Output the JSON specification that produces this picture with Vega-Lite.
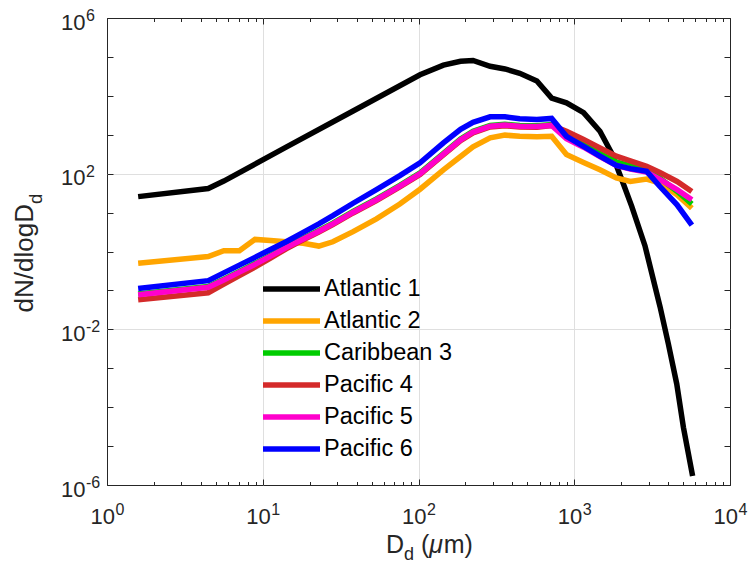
{
"$schema": "https://vega.github.io/schema/vega-lite/v6.json",
"width": 623, "height": 467,
"autosize": {"type": "none"},
"padding": {"left": 107, "top": 18, "right": 21, "bottom": 94},
"background": "white",
"config": {"font": "Liberation Sans", "view": {"stroke": "#262626", "strokeWidth": 1}, "axis": {"domain": false, "tickColor": "#262626", "labelColor": "#262626", "gridColor": "#dfdfdf", "labelFont": "Liberation Sans"}},
"resolve": {"axis": {"x": "independent", "y": "independent"}},
"layer": [
{
"data": {"values": [
{"series":"Atlantic 1","D":1.585,"N":25.70},{"series":"Atlantic 1","D":4.467,"N":41.69},{"series":"Atlantic 1","D":5.623,"N":64.57},{"series":"Atlantic 1","D":14.13,"N":478.6},{"series":"Atlantic 1","D":38.02,"N":4074},{"series":"Atlantic 1","D":102.3,"N":34674},{"series":"Atlantic 1","D":144.5,"N":61660},{"series":"Atlantic 1","D":186.2,"N":77625},{"series":"Atlantic 1","D":223.9,"N":81283},{"series":"Atlantic 1","D":288.4,"N":57544},{"series":"Atlantic 1","D":358.9,"N":48978},{"series":"Atlantic 1","D":446.7,"N":38019},{"series":"Atlantic 1","D":575.4,"N":23988},{"series":"Atlantic 1","D":716.1,"N":8710},{"series":"Atlantic 1","D":891.3,"N":6607},{"series":"Atlantic 1","D":1148,"N":3715},{"series":"Atlantic 1","D":1462,"N":1230},{"series":"Atlantic 1","D":1738,"N":338.8},{"series":"Atlantic 1","D":2018,"N":70.79},{"series":"Atlantic 1","D":2339,"N":14.45},{"series":"Atlantic 1","D":2844,"N":1.413},{"series":"Atlantic 1","D":3556,"N":0.03802},{"series":"Atlantic 1","D":4018,"N":0.004266},{"series":"Atlantic 1","D":4550,"N":0.0003981},{"series":"Atlantic 1","D":5023,"N":0.0000302},{"series":"Atlantic 1","D":5754,"N":0.000001698},
{"series":"Atlantic 2","D":1.585,"N":0.5012},{"series":"Atlantic 2","D":4.467,"N":0.7413},{"series":"Atlantic 2","D":5.623,"N":1.047},{"series":"Atlantic 2","D":7.079,"N":1.047},{"series":"Atlantic 2","D":8.913,"N":2.042},{"series":"Atlantic 2","D":11.22,"N":1.905},{"series":"Atlantic 2","D":14.13,"N":1.778},{"series":"Atlantic 2","D":18.2,"N":1.622},{"series":"Atlantic 2","D":22.91,"N":1.38},{"series":"Atlantic 2","D":28.18,"N":1.778},{"series":"Atlantic 2","D":38.02,"N":3.236},{"series":"Atlantic 2","D":53.7,"N":6.918},{"series":"Atlantic 2","D":75.86,"N":16.6},{"series":"Atlantic 2","D":102.3,"N":39.81},{"series":"Atlantic 2","D":144.5,"N":125.9},{"series":"Atlantic 2","D":186.2,"N":275.4},{"series":"Atlantic 2","D":223.9,"N":489.8},{"series":"Atlantic 2","D":288.4,"N":831.8},{"series":"Atlantic 2","D":358.9,"N":977.2},{"series":"Atlantic 2","D":446.7,"N":912},{"series":"Atlantic 2","D":575.4,"N":891.3},{"series":"Atlantic 2","D":716.1,"N":912},{"series":"Atlantic 2","D":891.3,"N":309},{"series":"Atlantic 2","D":1148,"N":195},{"series":"Atlantic 2","D":1462,"N":125.9},{"series":"Atlantic 2","D":1862,"N":77.62},{"series":"Atlantic 2","D":2291,"N":63.1},{"series":"Atlantic 2","D":2917,"N":72.44},{"series":"Atlantic 2","D":3548,"N":57.54},{"series":"Atlantic 2","D":4571,"N":28.84},{"series":"Atlantic 2","D":5689,"N":12.88},
{"series":"Caribbean 3","D":1.585,"N":0.08128},{"series":"Caribbean 3","D":4.467,"N":0.1259},{"series":"Caribbean 3","D":5.623,"N":0.1950},{"series":"Caribbean 3","D":7.079,"N":0.3090},{"series":"Caribbean 3","D":8.913,"N":0.4898},{"series":"Caribbean 3","D":11.22,"N":0.7943},{"series":"Caribbean 3","D":14.13,"N":1.318},{"series":"Caribbean 3","D":18.2,"N":2.188},{"series":"Caribbean 3","D":22.91,"N":3.467},{"series":"Caribbean 3","D":28.18,"N":5.370},{"series":"Caribbean 3","D":38.02,"N":10.72},{"series":"Caribbean 3","D":53.7,"N":22.39},{"series":"Caribbean 3","D":75.86,"N":50.12},{"series":"Caribbean 3","D":102.3,"N":104.7},{"series":"Caribbean 3","D":144.5,"N":331.1},{"series":"Caribbean 3","D":186.2,"N":776.2},{"series":"Caribbean 3","D":223.9,"N":1230},{"series":"Caribbean 3","D":288.4,"N":1738},{"series":"Caribbean 3","D":358.9,"N":1862},{"series":"Caribbean 3","D":446.7,"N":1738},{"series":"Caribbean 3","D":575.4,"N":1698},{"series":"Caribbean 3","D":716.1,"N":1820},{"series":"Caribbean 3","D":891.3,"N":851.1},{"series":"Caribbean 3","D":1148,"N":562.3},{"series":"Caribbean 3","D":1462,"N":331.1},{"series":"Caribbean 3","D":1862,"N":199.5},{"series":"Caribbean 3","D":2291,"N":158.5},{"series":"Caribbean 3","D":2917,"N":125.9},{"series":"Caribbean 3","D":3548,"N":75.86},{"series":"Caribbean 3","D":4571,"N":35.48},{"series":"Caribbean 3","D":5689,"N":16.6},
{"series":"Pacific 4","D":1.585,"N":0.05754},{"series":"Pacific 4","D":4.467,"N":0.0871},{"series":"Pacific 4","D":5.623,"N":0.1445},{"series":"Pacific 4","D":7.079,"N":0.2399},{"series":"Pacific 4","D":8.913,"N":0.3981},{"series":"Pacific 4","D":11.22,"N":0.6761},{"series":"Pacific 4","D":14.13,"N":1.175},{"series":"Pacific 4","D":18.2,"N":1.995},{"series":"Pacific 4","D":22.91,"N":3.162},{"series":"Pacific 4","D":28.18,"N":4.898},{"series":"Pacific 4","D":38.02,"N":9.772},{"series":"Pacific 4","D":53.7,"N":20.42},{"series":"Pacific 4","D":75.86,"N":45.71},{"series":"Pacific 4","D":102.3,"N":95.5},{"series":"Pacific 4","D":144.5,"N":302},{"series":"Pacific 4","D":186.2,"N":707.9},{"series":"Pacific 4","D":223.9,"N":1122},{"series":"Pacific 4","D":288.4,"N":1585},{"series":"Pacific 4","D":358.9,"N":1698},{"series":"Pacific 4","D":446.7,"N":1585},{"series":"Pacific 4","D":575.4,"N":1549},{"series":"Pacific 4","D":716.1,"N":1738},{"series":"Pacific 4","D":891.3,"N":1230},{"series":"Pacific 4","D":1148,"N":758.6},{"series":"Pacific 4","D":1462,"N":457.1},{"series":"Pacific 4","D":1862,"N":281.8},{"series":"Pacific 4","D":2291,"N":213.8},{"series":"Pacific 4","D":2917,"N":154.9},{"series":"Pacific 4","D":3548,"N":107.2},{"series":"Pacific 4","D":4571,"N":63.1},{"series":"Pacific 4","D":5689,"N":34.67},
{"series":"Pacific 5","D":1.585,"N":0.07762},{"series":"Pacific 5","D":4.467,"N":0.1202},{"series":"Pacific 5","D":5.623,"N":0.1862},{"series":"Pacific 5","D":7.079,"N":0.2951},{"series":"Pacific 5","D":8.913,"N":0.4677},{"series":"Pacific 5","D":11.22,"N":0.7586},{"series":"Pacific 5","D":14.13,"N":1.259},{"series":"Pacific 5","D":18.2,"N":2.089},{"series":"Pacific 5","D":22.91,"N":3.311},{"series":"Pacific 5","D":28.18,"N":5.129},{"series":"Pacific 5","D":38.02,"N":10.23},{"series":"Pacific 5","D":53.7,"N":21.38},{"series":"Pacific 5","D":75.86,"N":47.86},{"series":"Pacific 5","D":102.3,"N":100},{"series":"Pacific 5","D":144.5,"N":316.2},{"series":"Pacific 5","D":186.2,"N":741.3},{"series":"Pacific 5","D":223.9,"N":1175},{"series":"Pacific 5","D":288.4,"N":1660},{"series":"Pacific 5","D":358.9,"N":1778},{"series":"Pacific 5","D":446.7,"N":1660},{"series":"Pacific 5","D":575.4,"N":1622},{"series":"Pacific 5","D":716.1,"N":1738},{"series":"Pacific 5","D":891.3,"N":794.3},{"series":"Pacific 5","D":1148,"N":478.6},{"series":"Pacific 5","D":1462,"N":275.4},{"series":"Pacific 5","D":1862,"N":162.2},{"series":"Pacific 5","D":2291,"N":131.8},{"series":"Pacific 5","D":2917,"N":109.6},{"series":"Pacific 5","D":3548,"N":70.79},{"series":"Pacific 5","D":4571,"N":38.9},{"series":"Pacific 5","D":5689,"N":21.38},
{"series":"Pacific 6","D":1.585,"N":0.1122},{"series":"Pacific 6","D":4.467,"N":0.1778},{"series":"Pacific 6","D":5.623,"N":0.2818},{"series":"Pacific 6","D":7.079,"N":0.4467},{"series":"Pacific 6","D":8.913,"N":0.7079},{"series":"Pacific 6","D":11.22,"N":1.122},{"series":"Pacific 6","D":14.13,"N":1.778},{"series":"Pacific 6","D":18.2,"N":3.09},{"series":"Pacific 6","D":22.91,"N":5.129},{"series":"Pacific 6","D":28.18,"N":8.318},{"series":"Pacific 6","D":38.02,"N":17.38},{"series":"Pacific 6","D":53.7,"N":38.9},{"series":"Pacific 6","D":75.86,"N":89.13},{"series":"Pacific 6","D":102.3,"N":190.5},{"series":"Pacific 6","D":144.5,"N":616.6},{"series":"Pacific 6","D":186.2,"N":1380},{"series":"Pacific 6","D":223.9,"N":2089},{"series":"Pacific 6","D":288.4,"N":2884},{"series":"Pacific 6","D":358.9,"N":2884},{"series":"Pacific 6","D":446.7,"N":2570},{"series":"Pacific 6","D":575.4,"N":2455},{"series":"Pacific 6","D":716.1,"N":2630},{"series":"Pacific 6","D":891.3,"N":912},{"series":"Pacific 6","D":1148,"N":501.2},{"series":"Pacific 6","D":1462,"N":281.8},{"series":"Pacific 6","D":1862,"N":162.2},{"series":"Pacific 6","D":2291,"N":134.9},{"series":"Pacific 6","D":2917,"N":114.8},{"series":"Pacific 6","D":3548,"N":46.77},{"series":"Pacific 6","D":4571,"N":15.85},{"series":"Pacific 6","D":5689,"N":4.786}
]},
"mark": {"type": "line", "strokeWidth": 5.5, "clip": true},
"encoding": {
"x": {"field": "D", "type": "quantitative", "scale": {"type": "log", "domain": [1, 10000]},
 "axis": {"orient": "bottom", "title": null,
  "values": [1,2,3,4,5,6,7,8,9,10,20,30,40,50,60,70,80,90,100,200,300,400,500,600,700,800,900,1000,2000,3000,4000,5000,6000,7000,8000,9000,10000],
  "tickSize": {"condition": {"test": "datum.value == 1 || datum.value == 10 || datum.value == 100 || datum.value == 1000 || datum.value == 10000", "value": -6}, "value": -3.5},
  "labelExpr": "datum.value == 1 || datum.value == 10 || datum.value == 100 || datum.value == 1000 || datum.value == 10000 ? '10' : ''",
  "labelAlign": "right", "labelOffset": 7.5, "labelBaseline": "alphabetic", "labelPadding": 44, "labelFontSize": 22,
  "labelOverlap": false, "labelFlush": false, "labelBound": false,
  "grid": true, "gridOpacity": {"condition": {"test": "datum.value == 10 || datum.value == 100 || datum.value == 1000", "value": 1}, "value": 0}}},
"y": {"field": "N", "type": "quantitative", "scale": {"type": "log", "domain": [0.000001, 1000000]},
 "axis": {"orient": "left", "title": null,
  "values": [0.000001,0.00001,0.0001,0.001,0.01,0.1,1,10,100,1000,10000,100000,1000000],
  "tickSize": -6,
  "labelExpr": "datum.value == 1000000 || datum.value == 100 || datum.value == 0.01 || datum.value == 0.000001 ? '10' : ''",
  "labelAlign": "right", "labelBaseline": "alphabetic", "labelOffset": 11, "labelPadding": 28, "labelFontSize": 22,
  "labelOverlap": false, "labelFlush": false, "labelBound": false,
  "grid": true, "gridOpacity": {"condition": {"test": "datum.value == 100 || datum.value == 0.01", "value": 1}, "value": 0}}},
"color": {"field": "series", "type": "nominal",
 "scale": {"domain": ["Atlantic 1","Atlantic 2","Caribbean 3","Pacific 4","Pacific 5","Pacific 6"], "range": ["#000000","#FFA500","#00CC00","#D42A2A","#FF00CC","#0000FF"]},
 "legend": {"title": null, "orient": "none", "legendX": 153, "legendY": 255, "symbolType": "stroke", "symbolSize": 3249, "symbolStrokeWidth": 5.5, "labelFontSize": 23.5, "labelFont": "Liberation Sans", "labelColor": "#000000", "labelOffset": 1, "clipHeight": 32, "rowPadding": 0, "padding": 0, "labelLimit": 300}}
}
},
{
"data": {"values": [{"xv":1,"sup":"0"},{"xv":10,"sup":"1"},{"xv":100,"sup":"2"},{"xv":1000,"sup":"3"},{"xv":10000,"sup":"4"}]},
"mark": {"type": "text", "align": "left", "baseline": "alphabetic", "dx": 8.5, "dy": 30, "fontSize": 16, "color": "#262626", "font": "Liberation Sans"},
"encoding": {
"x": {"field": "xv", "type": "quantitative", "scale": {"type": "log", "domain": [1, 10000]},
 "axis": {"orient": "top", "title": null, "labels": false, "grid": false,
  "values": [1,2,3,4,5,6,7,8,9,10,20,30,40,50,60,70,80,90,100,200,300,400,500,600,700,800,900,1000,2000,3000,4000,5000,6000,7000,8000,9000,10000],
  "tickSize": {"condition": {"test": "datum.value == 1 || datum.value == 10 || datum.value == 100 || datum.value == 1000 || datum.value == 10000", "value": -6}, "value": -3.5}}},
"y": {"datum": 0.000001, "type": "quantitative", "scale": {"type": "log", "domain": [0.000001, 1000000]}, "axis": null},
"text": {"field": "sup"}
}
},
{
"data": {"values": [{"yv":1000000,"sup":"6"},{"yv":100,"sup":"2"},{"yv":0.01,"sup":"-2"},{"yv":0.000001,"sup":"-6"}]},
"mark": {"type": "text", "align": "left", "baseline": "alphabetic", "dx": -21, "dy": 3, "fontSize": 16, "color": "#262626", "font": "Liberation Sans"},
"encoding": {
"x": {"datum": 1, "type": "quantitative", "scale": {"type": "log", "domain": [1, 10000]}, "axis": null},
"y": {"field": "yv", "type": "quantitative", "scale": {"type": "log", "domain": [0.000001, 1000000]},
 "axis": {"orient": "right", "title": null, "labels": false, "grid": false, "tickSize": -6,
  "values": [0.000001,0.00001,0.0001,0.001,0.01,0.1,1,10,100,1000,10000,100000,1000000]}},
"text": {"field": "sup"}
}
},
{
"data": {"values": [{"t": "D"}]},
"mark": {"type": "text", "align": "right", "baseline": "alphabetic", "dx": -14.5, "dy": 68, "fontSize": 25, "color": "#262626", "font": "Liberation Sans"},
"encoding": {"x": {"datum": 100, "type": "quantitative", "scale": {"type": "log", "domain": [1, 10000]}, "axis": null}, "y": {"datum": 0.000001, "type": "quantitative", "scale": {"type": "log", "domain": [0.000001, 1000000]}, "axis": null}, "text": {"field": "t"}}
},
{
"data": {"values": [{"t": "d"}]},
"mark": {"type": "text", "align": "left", "baseline": "alphabetic", "dx": -14.5, "dy": 75, "fontSize": 18, "color": "#262626", "font": "Liberation Sans"},
"encoding": {"x": {"datum": 100, "type": "quantitative", "scale": {"type": "log", "domain": [1, 10000]}, "axis": null}, "y": {"datum": 0.000001, "type": "quantitative", "scale": {"type": "log", "domain": [0.000001, 1000000]}, "axis": null}, "text": {"field": "t"}}
},
{
"data": {"values": [{"t": "("}]},
"mark": {"type": "text", "align": "left", "baseline": "alphabetic", "dx": 2.5, "dy": 68, "fontSize": 25, "color": "#262626", "font": "Liberation Sans"},
"encoding": {"x": {"datum": 100, "type": "quantitative", "scale": {"type": "log", "domain": [1, 10000]}, "axis": null}, "y": {"datum": 0.000001, "type": "quantitative", "scale": {"type": "log", "domain": [0.000001, 1000000]}, "axis": null}, "text": {"field": "t"}}
},
{
"data": {"values": [{"t": "μ"}]},
"mark": {"type": "text", "align": "left", "baseline": "alphabetic", "dx": 10.8, "dy": 68, "fontSize": 25, "fontStyle": "italic", "color": "#262626", "font": "Liberation Sans"},
"encoding": {"x": {"datum": 100, "type": "quantitative", "scale": {"type": "log", "domain": [1, 10000]}, "axis": null}, "y": {"datum": 0.000001, "type": "quantitative", "scale": {"type": "log", "domain": [0.000001, 1000000]}, "axis": null}, "text": {"field": "t"}}
},
{
"data": {"values": [{"t": "m)"}]},
"mark": {"type": "text", "align": "left", "baseline": "alphabetic", "dx": 25.2, "dy": 68, "fontSize": 25, "color": "#262626", "font": "Liberation Sans"},
"encoding": {"x": {"datum": 100, "type": "quantitative", "scale": {"type": "log", "domain": [1, 10000]}, "axis": null}, "y": {"datum": 0.000001, "type": "quantitative", "scale": {"type": "log", "domain": [0.000001, 1000000]}, "axis": null}, "text": {"field": "t"}}
},
{
"data": {"values": [{"t": "dN/dlogD"}]},
"mark": {"type": "text", "align": "right", "baseline": "alphabetic", "angle": 270, "dx": 47.5, "dy": -74, "fontSize": 26, "color": "#262626", "font": "Liberation Sans"},
"encoding": {"x": {"datum": 1, "type": "quantitative", "scale": {"type": "log", "domain": [1, 10000]}, "axis": null}, "y": {"datum": 1, "type": "quantitative", "scale": {"type": "log", "domain": [0.000001, 1000000]}, "axis": null}, "text": {"field": "t"}}
},
{
"data": {"values": [{"t": "d"}]},
"mark": {"type": "text", "align": "left", "baseline": "alphabetic", "angle": 270, "dx": 47.5, "dy": -65, "fontSize": 18.5, "color": "#262626", "font": "Liberation Sans"},
"encoding": {"x": {"datum": 1, "type": "quantitative", "scale": {"type": "log", "domain": [1, 10000]}, "axis": null}, "y": {"datum": 1, "type": "quantitative", "scale": {"type": "log", "domain": [0.000001, 1000000]}, "axis": null}, "text": {"field": "t"}}
}
]
}
